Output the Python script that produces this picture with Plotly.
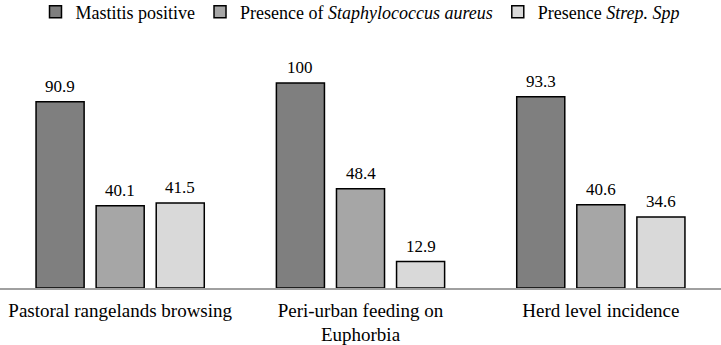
import plotly.graph_objects as go

categories = ["Pastoral rangelands browsing", "Peri-urban feeding on<br>Euphorbia", "Herd level incidence"]
series_names = ["Mastitis positive", "Presence of <i>Staphylococcus aureus</i>", "Presence <i>Strep. Spp</i>"]
mastitis = [90.9, 100, 93.3]
staph = [40.1, 48.4, 40.6]
strep = [41.5, 12.9, 34.6]
colors = ["#7f7f7f", "#a6a6a6", "#d9d9d9"]

W, H = 721, 345
BARGAP = 0.25
FONT = "Liberation Serif"
series = [mastitis, staph, strep]

fig = go.Figure()
for name, vals, col in zip(series_names, series, colors):
    fig.add_trace(go.Bar(
        x=categories, y=vals, name=name,
        marker=dict(color=col, line=dict(color="#000000", width=1.5)),
        cliponaxis=False, hoverinfo="skip",
    ))

# value labels above each bar
slot_px = W / len(categories) * (1 - BARGAP) / len(series)
for i, vals in enumerate(series):
    for cat, v in zip(categories, vals):
        fig.add_annotation(x=cat, y=v, text=f"{v:g}", showarrow=False,
                           xshift=(i - (len(series) - 1) / 2) * slot_px, yshift=4,
                           yanchor="bottom", font=dict(family=FONT, size=17, color="#000000"))

fig.update_layout(
    width=W, height=H,
    margin=dict(l=0, r=0, t=40, b=57, autoexpand=False),
    paper_bgcolor="white", plot_bgcolor="white",
    barmode="group", bargap=BARGAP, bargroupgap=0.2,
    font=dict(family=FONT, size=17, color="#000000"),
    showlegend=True,
    legend=dict(orientation="h", x=0.5, xanchor="center", y=1.113, yanchor="middle",
                itemwidth=30, font=dict(family=FONT, size=18),
                traceorder="normal"),
    xaxis=dict(showline=True, linecolor="#a0a0a0", linewidth=1.5, ticks="",
               automargin=False, ticklabelstandoff=4,
               tickfont=dict(family=FONT, size=19), showgrid=False),
    yaxis=dict(visible=False, range=[0, 121], automargin=False),
)
fig.write_html("out.html", config={"displayModeBar": False},
               post_script="document.body.style.margin='0';")
